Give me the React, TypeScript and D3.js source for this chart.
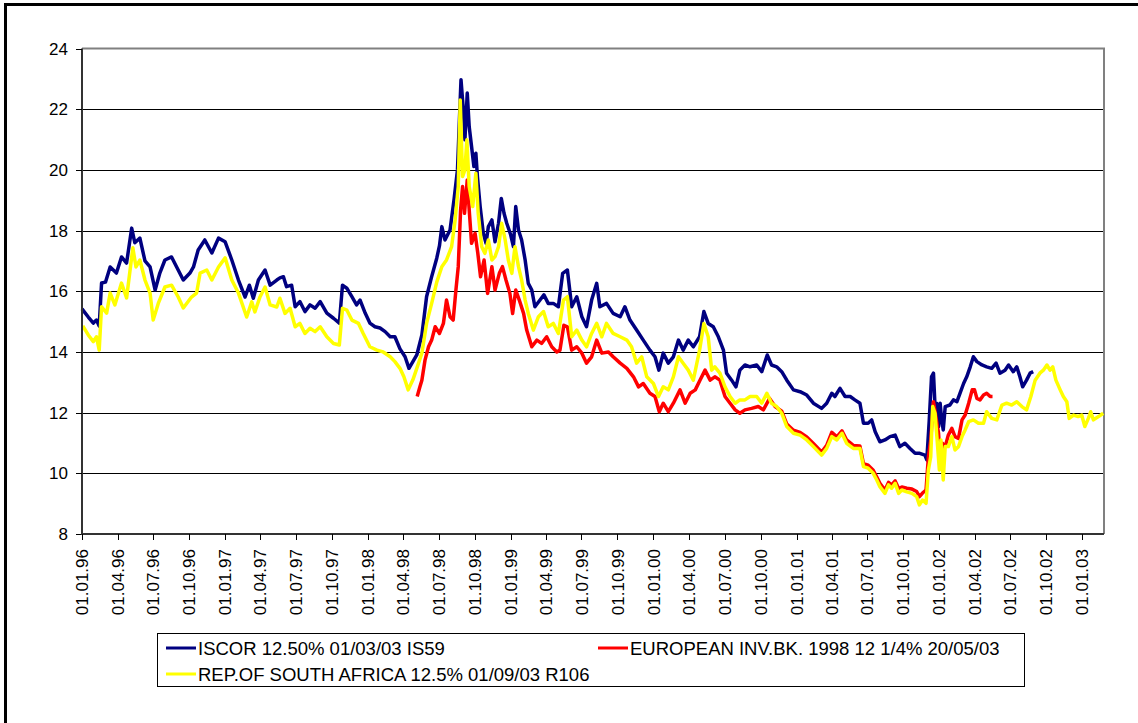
import React, { useEffect, useRef } from 'react';
import * as d3 from 'd3';

// ISCOR 12.50% 01/03/03 IS59
const iscor: [string, number][] = [
  ['1996-01-01', 15.42], ['1996-01-17', 15.15], ['1996-01-30', 14.95], ['1996-02-07', 15.05], ['1996-02-14', 14.85],
  ['1996-02-20', 16.27], ['1996-03-01', 16.3], ['1996-03-13', 16.8], ['1996-03-29', 16.6], ['1996-04-11', 17.13],
  ['1996-04-24', 16.93], ['1996-05-07', 18.08], ['1996-05-15', 17.6], ['1996-05-28', 17.75], ['1996-06-10', 17.0],
  ['1996-06-23', 16.8], ['1996-07-06', 16.04], ['1996-07-18', 16.6], ['1996-07-31', 17.03], ['1996-08-17', 17.13],
  ['1996-08-30', 16.8], ['1996-09-16', 16.37], ['1996-10-03', 16.6], ['1996-10-12', 16.8], ['1996-10-24', 17.36],
  ['1996-11-10', 17.69], ['1996-11-28', 17.26], ['1996-12-15', 17.75], ['1997-01-01', 17.63], ['1997-01-18', 17.03],
  ['1997-02-04', 16.37], ['1997-02-21', 15.81], ['1997-03-04', 16.2], ['1997-03-14', 15.77], ['1997-03-27', 16.37],
  ['1997-04-13', 16.7], ['1997-04-26', 16.2], ['1997-05-13', 16.37], ['1997-05-21', 16.44], ['1997-05-30', 16.48],
  ['1997-06-07', 16.15], ['1997-06-20', 16.2], ['1997-06-29', 15.49], ['1997-07-11', 15.66], ['1997-07-24', 15.33],
  ['1997-08-06', 15.55], ['1997-08-19', 15.44], ['1997-09-01', 15.66], ['1997-09-18', 15.28], ['1997-10-05', 15.11],
  ['1997-10-20', 14.95], ['1997-10-28', 16.2], ['1997-11-08', 16.1], ['1997-11-21', 15.82], ['1997-12-03', 15.55],
  ['1997-12-12', 15.71], ['1997-12-25', 15.28], ['1998-01-06', 14.95], ['1998-01-19', 14.83], ['1998-02-01', 14.79],
  ['1998-02-14', 14.67], ['1998-02-27', 14.5], ['1998-03-11', 14.5], ['1998-03-24', 14.1], ['1998-04-06', 13.84],
  ['1998-04-16', 13.46], ['1998-04-26', 13.68], ['1998-05-06', 13.9], ['1998-05-19', 14.56], ['1998-05-31', 15.82],
  ['1998-06-13', 16.48], ['1998-06-26', 17.09], ['1998-07-03', 17.5], ['1998-07-09', 18.13], ['1998-07-17', 17.69],
  ['1998-07-30', 18.02], ['1998-08-09', 19.0], ['1998-08-18', 20.0], ['1998-08-23', 21.65], ['1998-08-27', 22.97],
  ['1998-09-02', 21.98], ['1998-09-06', 20.99], ['1998-09-12', 22.53], ['1998-09-17', 21.42], ['1998-09-23', 20.77],
  ['1998-09-29', 20.11], ['1998-10-04', 20.55], ['1998-10-08', 19.78], ['1998-10-15', 18.79], ['1998-10-23', 17.91],
  ['1998-10-30', 17.58], ['1998-11-05', 18.13], ['1998-11-14', 18.35], ['1998-11-22', 17.63], ['1998-12-01', 18.24],
  ['1998-12-08', 19.06], ['1998-12-15', 18.57], ['1998-12-22', 18.24], ['1999-01-01', 17.86], ['1999-01-08', 17.47],
  ['1999-01-14', 18.79], ['1999-01-21', 18.02], ['1999-01-29', 17.69], ['1999-02-07', 17.03], ['1999-02-15', 16.26],
  ['1999-02-24', 16.04], ['1999-03-04', 15.49], ['1999-03-17', 15.71], ['1999-03-27', 15.88], ['1999-04-07', 15.6],
  ['1999-04-20', 15.6], ['1999-05-03', 15.49], ['1999-05-14', 16.59], ['1999-05-26', 16.7], ['1999-06-06', 15.49],
  ['1999-06-19', 15.82], ['1999-07-02', 15.16], ['1999-07-14', 14.83], ['1999-07-27', 15.71], ['1999-08-09', 16.26],
  ['1999-08-17', 15.49], ['1999-09-03', 15.6], ['1999-09-20', 15.27], ['1999-10-08', 15.16], ['1999-10-20', 15.49],
  ['1999-11-02', 15.05], ['1999-11-19', 14.72], ['1999-12-06', 14.39], ['1999-12-23', 14.06], ['2000-01-05', 13.84],
  ['2000-01-15', 13.4], ['2000-01-26', 13.96], ['2000-02-08', 13.63], ['2000-02-21', 13.84], ['2000-03-05', 14.39],
  ['2000-03-17', 14.06], ['2000-03-30', 14.39], ['2000-04-12', 14.17], ['2000-04-28', 14.5], ['2000-05-09', 15.33],
  ['2000-05-20', 14.94], ['2000-06-02', 14.83], ['2000-06-15', 14.5], ['2000-06-28', 14.06], ['2000-07-06', 13.3],
  ['2000-07-19', 13.07], ['2000-07-30', 12.85], ['2000-08-09', 13.4], ['2000-08-22', 13.57], ['2000-09-04', 13.51],
  ['2000-09-21', 13.57], ['2000-10-04', 13.35], ['2000-10-18', 13.9], ['2000-10-29', 13.57], ['2000-11-11', 13.51],
  ['2000-11-24', 13.35], ['2000-12-07', 13.07], ['2000-12-24', 12.75], ['2001-01-10', 12.69], ['2001-01-27', 12.58],
  ['2001-02-13', 12.31], ['2001-03-06', 12.14], ['2001-03-19', 12.31], ['2001-04-01', 12.64], ['2001-04-09', 12.53],
  ['2001-04-22', 12.8], ['2001-05-05', 12.53], ['2001-05-18', 12.53], ['2001-05-30', 12.42], ['2001-06-12', 12.31],
  ['2001-06-21', 11.65], ['2001-07-03', 11.65], ['2001-07-12', 11.76], ['2001-07-21', 11.37], ['2001-08-02', 11.04],
  ['2001-08-15', 11.1], ['2001-08-28', 11.21], ['2001-09-10', 11.26], ['2001-09-22', 10.88], ['2001-10-05', 10.99],
  ['2001-10-18', 10.82], ['2001-10-31', 10.66], ['2001-11-12', 10.66], ['2001-11-25', 10.6], ['2001-11-30', 10.44],
  ['2001-12-06', 11.7], ['2001-12-12', 13.18], ['2001-12-17', 13.3], ['2001-12-21', 12.2], ['2001-12-25', 12.31],
  ['2001-12-30', 11.54], ['2002-01-03', 12.31], ['2002-01-07', 11.76], ['2002-01-11', 11.43], ['2002-01-16', 12.2],
  ['2002-01-28', 12.25], ['2002-02-06', 12.42], ['2002-02-15', 12.36], ['2002-02-23', 12.64], ['2002-03-04', 12.96],
  ['2002-03-12', 13.18], ['2002-03-21', 13.51], ['2002-03-29', 13.84], ['2002-04-07', 13.68], ['2002-04-20', 13.57],
  ['2002-05-02', 13.51], ['2002-05-15', 13.46], ['2002-05-26', 13.63], ['2002-06-05', 13.3], ['2002-06-18', 13.4],
  ['2002-06-27', 13.57], ['2002-07-09', 13.35], ['2002-07-18', 13.51], ['2002-07-26', 13.18], ['2002-08-02', 12.85],
  ['2002-08-12', 13.07], ['2002-08-21', 13.3], ['2002-08-29', 13.35],
];

// EUROPEAN INV.BK. 1998 12 1/4% 20/05/03
const eib: [string, number][] = [
  ['1998-05-07', 12.53], ['1998-05-14', 12.85], ['1998-05-19', 13.07], ['1998-05-27', 13.73], ['1998-06-05', 14.17],
  ['1998-06-13', 14.39], ['1998-06-22', 14.83], ['1998-07-03', 14.61], ['1998-07-13', 14.94], ['1998-07-21', 15.71],
  ['1998-07-30', 15.16], ['1998-08-07', 15.05], ['1998-08-14', 16.04], ['1998-08-20', 16.81], ['1998-08-26', 18.68],
  ['1998-08-31', 19.45], ['1998-09-05', 18.57], ['1998-09-12', 19.67], ['1998-09-17', 18.68], ['1998-09-23', 17.58],
  ['1998-10-02', 17.91], ['1998-10-09', 17.25], ['1998-10-16', 16.48], ['1998-10-25', 17.03], ['1998-11-03', 15.93],
  ['1998-11-14', 16.81], ['1998-11-22', 16.04], ['1998-12-03', 16.59], ['1998-12-11', 16.81], ['1998-12-20', 16.37],
  ['1998-12-30', 15.93], ['1999-01-06', 15.27], ['1999-01-14', 16.04], ['1999-01-23', 15.71], ['1999-02-03', 15.27],
  ['1999-02-11', 14.72], ['1999-02-24', 14.17], ['1999-03-09', 14.39], ['1999-03-21', 14.28], ['1999-04-03', 14.5],
  ['1999-04-16', 14.17], ['1999-04-29', 14.0], ['1999-05-07', 14.06], ['1999-05-17', 14.88], ['1999-05-26', 14.83],
  ['1999-06-06', 14.06], ['1999-06-19', 14.17], ['1999-07-02', 13.96], ['1999-07-14', 13.63], ['1999-07-27', 13.84],
  ['1999-08-09', 14.39], ['1999-08-22', 13.96], ['1999-09-08', 14.0], ['1999-09-20', 13.84], ['1999-10-08', 13.63],
  ['1999-10-25', 13.46], ['1999-11-11', 13.18], ['1999-11-24', 12.85], ['1999-12-06', 12.96], ['1999-12-23', 12.64],
  ['2000-01-05', 12.53], ['2000-01-16', 12.03], ['2000-01-26', 12.31], ['2000-02-08', 12.03], ['2000-02-21', 12.31],
  ['2000-03-09', 12.75], ['2000-03-22', 12.31], ['2000-04-04', 12.64], ['2000-04-17', 12.75], ['2000-04-29', 13.07],
  ['2000-05-12', 13.4], ['2000-05-25', 13.07], ['2000-06-06', 13.18], ['2000-06-19', 13.07], ['2000-07-02', 12.53],
  ['2000-07-15', 12.31], ['2000-07-28', 12.09], ['2000-08-09', 11.98], ['2000-08-22', 12.09], ['2000-09-08', 12.14],
  ['2000-09-25', 12.2], ['2000-10-08', 12.09], ['2000-10-24', 12.47], ['2000-11-07', 12.2], ['2000-11-24', 12.05],
  ['2000-12-07', 11.62], ['2000-12-24', 11.42], ['2001-01-10', 11.35], ['2001-01-27', 11.2], ['2001-02-13', 10.98],
  ['2001-03-06', 10.7], ['2001-03-19', 10.92], ['2001-04-01', 11.35], ['2001-04-14', 11.2], ['2001-04-27', 11.4],
  ['2001-05-09', 11.1], ['2001-05-26', 10.92], ['2001-06-12', 10.9], ['2001-06-21', 10.32], ['2001-07-03', 10.27],
  ['2001-07-16', 10.1], ['2001-07-25', 9.88], ['2001-08-02', 9.67], ['2001-08-15', 9.45], ['2001-08-24', 9.7],
  ['2001-09-01', 9.62], ['2001-09-10', 9.75], ['2001-09-19', 9.5], ['2001-09-27', 9.55], ['2001-10-10', 9.51],
  ['2001-10-23', 9.48], ['2001-11-04', 9.4], ['2001-11-11', 9.23], ['2001-11-19', 9.35], ['2001-11-28', 9.45],
  ['2001-12-04', 10.55], ['2001-12-10', 11.1], ['2001-12-17', 12.36], ['2001-12-23', 11.87], ['2001-12-30', 11.32],
  ['2002-01-03', 10.44], ['2002-01-09', 10.99], ['2002-01-16', 10.88], ['2002-01-24', 11.26], ['2002-02-02', 11.48],
  ['2002-02-10', 11.21], ['2002-02-19', 11.15], ['2002-02-28', 11.76], ['2002-03-08', 11.92], ['2002-03-17', 12.31],
  ['2002-03-26', 12.75], ['2002-04-01', 12.75], ['2002-04-07', 12.47], ['2002-04-15', 12.42], ['2002-04-24', 12.58],
  ['2002-05-02', 12.64], ['2002-05-11', 12.53], ['2002-05-17', 12.53],
];

// REP.OF SOUTH AFRICA 12.5% 01/09/03 R106
const rsa: [string, number][] = [
  ['1996-01-03', 14.86], ['1996-01-17', 14.56], ['1996-01-30', 14.34], ['1996-02-07', 14.5], ['1996-02-14', 14.06],
  ['1996-02-20', 15.49], ['1996-03-04', 15.28], ['1996-03-13', 15.94], ['1996-03-25', 15.55], ['1996-04-11', 16.27],
  ['1996-04-24', 15.78], ['1996-05-10', 17.43], ['1996-05-18', 16.8], ['1996-05-28', 17.03], ['1996-06-10', 16.37],
  ['1996-06-23', 15.94], ['1996-07-01', 15.05], ['1996-07-14', 15.6], ['1996-07-31', 16.14], ['1996-08-17', 16.2],
  ['1996-09-03', 15.81], ['1996-09-16', 15.45], ['1996-10-07', 15.81], ['1996-10-20', 15.94], ['1996-10-29', 16.6],
  ['1996-11-15', 16.7], ['1996-11-28', 16.37], ['1996-12-15', 16.8], ['1997-01-01', 17.1], ['1997-01-18', 16.37],
  ['1997-02-04', 15.94], ['1997-02-25', 15.15], ['1997-03-10', 15.65], ['1997-03-18', 15.32], ['1997-03-31', 15.81],
  ['1997-04-13', 16.14], ['1997-04-26', 15.55], ['1997-05-13', 15.48], ['1997-05-21', 15.77], ['1997-06-03', 15.27],
  ['1997-06-16', 15.44], ['1997-06-29', 14.83], ['1997-07-11', 14.94], ['1997-07-24', 14.61], ['1997-08-06', 14.78],
  ['1997-08-19', 14.67], ['1997-09-01', 14.83], ['1997-09-18', 14.5], ['1997-10-05', 14.28], ['1997-10-20', 14.23],
  ['1997-10-28', 15.44], ['1997-11-08', 15.38], ['1997-11-21', 15.05], ['1997-12-08', 14.94], ['1997-12-20', 14.61],
  ['1998-01-06', 14.17], ['1998-01-24', 14.06], ['1998-02-09', 14.0], ['1998-02-27', 13.84], ['1998-03-11', 13.68],
  ['1998-03-24', 13.46], ['1998-04-03', 13.18], ['1998-04-14', 12.75], ['1998-04-26', 13.08], ['1998-05-06', 13.46],
  ['1998-05-19', 13.96], ['1998-05-31', 14.94], ['1998-06-13', 15.6], ['1998-06-26', 16.3], ['1998-07-09', 16.81],
  ['1998-07-21', 17.03], ['1998-08-03', 17.47], ['1998-08-12', 18.35], ['1998-08-20', 19.45], ['1998-08-25', 22.3],
  ['1998-08-31', 19.78], ['1998-09-06', 20.0], ['1998-09-11', 20.99], ['1998-09-17', 19.45], ['1998-09-26', 18.79],
  ['1998-10-04', 19.89], ['1998-10-10', 18.57], ['1998-10-19', 17.47], ['1998-10-27', 17.25], ['1998-11-05', 17.69],
  ['1998-11-14', 17.03], ['1998-11-22', 17.14], ['1998-12-01', 17.47], ['1998-12-09', 18.24], ['1998-12-18', 17.69],
  ['1998-12-26', 17.03], ['1999-01-04', 16.59], ['1999-01-12', 17.47], ['1999-01-21', 16.81], ['1999-01-29', 16.37],
  ['1999-02-07', 15.71], ['1999-02-15', 15.27], ['1999-02-28', 14.72], ['1999-03-13', 15.16], ['1999-03-26', 15.33],
  ['1999-04-07', 14.83], ['1999-04-20', 14.94], ['1999-05-03', 14.61], ['1999-05-16', 15.71], ['1999-05-26', 15.82],
  ['1999-06-06', 14.5], ['1999-06-19', 14.72], ['1999-07-02', 14.39], ['1999-07-14', 14.17], ['1999-07-27', 14.61],
  ['1999-08-09', 14.94], ['1999-08-22', 14.5], ['1999-09-03', 14.94], ['1999-09-20', 14.61], ['1999-10-08', 14.5],
  ['1999-10-25', 14.39], ['1999-11-06', 14.17], ['1999-11-19', 13.63], ['1999-12-02', 13.84], ['1999-12-15', 13.18],
  ['2000-01-01', 12.96], ['2000-01-14', 12.53], ['2000-01-26', 12.85], ['2000-02-08', 12.75], ['2000-02-21', 13.18],
  ['2000-03-05', 13.84], ['2000-03-17', 13.63], ['2000-03-30', 13.4], ['2000-04-12', 13.07], ['2000-04-28', 14.06],
  ['2000-05-09', 14.94], ['2000-05-20', 14.5], ['2000-05-29', 13.4], ['2000-06-06', 13.51], ['2000-06-19', 13.3],
  ['2000-07-02', 12.85], ['2000-07-15', 12.53], ['2000-07-28', 12.31], ['2000-08-09', 12.42], ['2000-08-22', 12.42],
  ['2000-09-04', 12.53], ['2000-09-21', 12.53], ['2000-10-04', 12.31], ['2000-10-17', 12.64], ['2000-10-29', 12.31],
  ['2000-11-11', 12.2], ['2000-11-24', 11.98], ['2000-12-07', 11.54], ['2000-12-24', 11.32], ['2001-01-10', 11.26],
  ['2001-01-27', 11.1], ['2001-02-13', 10.88], ['2001-03-06', 10.6], ['2001-03-19', 10.82], ['2001-04-01', 11.21],
  ['2001-04-14', 11.1], ['2001-04-27', 11.32], ['2001-05-09', 10.99], ['2001-05-26', 10.82], ['2001-06-12', 10.82],
  ['2001-06-21', 10.22], ['2001-07-03', 10.17], ['2001-07-16', 10.0], ['2001-07-25', 9.78], ['2001-08-02', 9.56],
  ['2001-08-15', 9.34], ['2001-08-24', 9.62], ['2001-09-01', 9.51], ['2001-09-10', 9.67], ['2001-09-19', 9.34],
  ['2001-09-27', 9.45], ['2001-10-10', 9.39], ['2001-10-23', 9.34], ['2001-11-04', 9.23], ['2001-11-11', 8.96],
  ['2001-11-19', 9.12], ['2001-11-28', 9.01], ['2001-12-04', 10.11], ['2001-12-10', 10.55], ['2001-12-15', 12.2],
  ['2001-12-21', 11.98], ['2001-12-27', 10.99], ['2002-01-01', 10.11], ['2002-01-05', 11.1], ['2002-01-11', 9.78],
  ['2002-01-16', 10.88], ['2002-01-24', 10.88], ['2002-02-02', 11.21], ['2002-02-10', 10.77], ['2002-02-19', 10.88],
  ['2002-02-28', 11.21], ['2002-03-08', 11.43], ['2002-03-17', 11.7], ['2002-03-29', 11.76], ['2002-04-11', 11.65],
  ['2002-04-24', 11.65], ['2002-05-02', 12.03], ['2002-05-15', 11.81], ['2002-05-28', 11.76], ['2002-06-10', 12.25],
  ['2002-06-22', 12.31], ['2002-07-05', 12.25], ['2002-07-18', 12.36], ['2002-07-31', 12.2], ['2002-08-12', 12.09],
  ['2002-08-23', 12.53], ['2002-09-03', 13.07], ['2002-09-15', 13.3], ['2002-09-24', 13.4], ['2002-10-03', 13.57],
  ['2002-10-11', 13.4], ['2002-10-18', 13.51], ['2002-10-26', 13.07], ['2002-11-06', 12.75], ['2002-11-14', 12.53],
  ['2002-11-23', 12.36], ['2002-11-29', 11.81], ['2002-12-10', 11.92], ['2002-12-22', 11.87], ['2002-12-31', 11.92],
  ['2003-01-08', 11.54], ['2003-01-17', 11.81], ['2003-01-23', 12.03], ['2003-01-30', 11.76], ['2003-02-12', 11.87],
  ['2003-02-24', 11.98],
];

const seriesNames = [
  'ISCOR 12.50% 01/03/03 IS59',
  'EUROPEAN INV.BK. 1998 12 1/4% 20/05/03',
  'REP.OF SOUTH AFRICA 12.5% 01/09/03 R106',
];
const seriesColors = ['#000080', '#ff0000', '#ffff00'];
const yTicks = [8, 10, 12, 14, 16, 18, 20, 22, 24];
const dateRange = ['1996-01-01', '2003-02-26'];

const FONT = 'Arial, "Liberation Sans", sans-serif';

const App: React.FC = () => {
  const svgRef = useRef<SVGSVGElement>(null);

  useEffect(() => {
    if (!svgRef.current) return;
    const svg = d3.select(svgRef.current);
    svg.selectAll('*').remove();

    const parse = d3.utcParse('%Y-%m-%d');
    const left = 82, right = 1104, top = 48.5, bottom = 534;

    const x = d3.scaleUtc()
      .domain(dateRange.map((d) => parse(d) as Date))
      .range([left, right]);
    const y = d3.scaleLinear().domain([8, 24]).range([bottom, top]);

    // outer frame
    svg.append('rect')
      .attr('x', 5.5).attr('y', 4.5)
      .attr('width', 1200).attr('height', 800)
      .attr('fill', '#fff').attr('stroke', '#000').attr('stroke-width', 3);

    // gridlines
    svg.append('g')
      .selectAll('line')
      .data(yTicks.filter((t) => t > 8 && t < 24))
      .join('line')
      .attr('x1', left).attr('x2', right)
      .attr('y1', (d) => Math.round(y(d)) + 0.5).attr('y2', (d) => Math.round(y(d)) + 0.5)
      .attr('stroke', '#000').attr('stroke-width', 1);

    // plot border (top / right)
    svg.append('path')
      .attr('d', `M${left},${top}H${right}V${bottom}`)
      .attr('fill', 'none').attr('stroke', '#808080').attr('stroke-width', 2);

    // series
    const line = d3.line<[string, number]>()
      .x((d) => x(parse(d[0]) as Date))
      .y((d) => y(d[1]));

    [iscor, eib, rsa].forEach((data, i) => {
      svg.append('path')
        .datum(data)
        .attr('d', line)
        .attr('fill', 'none')
        .attr('stroke', seriesColors[i])
        .attr('stroke-width', 3.5)
        .attr('stroke-linejoin', 'round');
    });

    // y axis
    const yAxis = svg.append('g');
    yAxis.append('line')
      .attr('x1', left).attr('x2', left).attr('y1', top).attr('y2', bottom + 1)
      .attr('stroke', '#333').attr('stroke-width', 2);
    yAxis.selectAll('line.tick')
      .data(yTicks)
      .join('line')
      .attr('class', 'tick')
      .attr('x1', left - 6).attr('x2', left)
      .attr('y1', (d) => Math.round(y(d)) + 0.5).attr('y2', (d) => Math.round(y(d)) + 0.5)
      .attr('stroke', '#000');
    yAxis.selectAll('text')
      .data(yTicks)
      .join('text')
      .attr('x', left - 14)
      .attr('y', (d) => y(d))
      .attr('dy', '0.36em')
      .attr('text-anchor', 'end')
      .style('font-family', FONT)
      .style('font-size', '17px')
      .text((d) => d);

    // x axis
    const xTicks = d3.utcMonth.every(3)!.range(parse('1996-01-01') as Date, parse('2003-01-02') as Date);
    const fmt = d3.utcFormat('%d.%m.%y');
    const xAxis = svg.append('g');
    xAxis.append('line')
      .attr('x1', left - 1).attr('x2', right).attr('y1', bottom).attr('y2', bottom)
      .attr('stroke', '#333').attr('stroke-width', 2);
    xAxis.selectAll('line.tick')
      .data(xTicks)
      .join('line')
      .attr('class', 'tick')
      .attr('x1', (d) => Math.round(x(d)) + 0.5).attr('x2', (d) => Math.round(x(d)) + 0.5)
      .attr('y1', bottom).attr('y2', bottom + 6)
      .attr('stroke', '#000');
    xAxis.selectAll('text')
      .data(xTicks)
      .join('text')
      .attr('transform', (d) => `translate(${x(d)},${bottom + 15}) rotate(-90)`)
      .attr('dy', '0.36em')
      .attr('text-anchor', 'end')
      .style('font-family', FONT)
      .style('font-size', '17px')
      .text((d) => fmt(d));

    // legend
    const lg = svg.append('g');
    lg.append('rect')
      .attr('x', 157.5).attr('y', 633.5).attr('width', 867).attr('height', 53)
      .attr('fill', '#fff').attr('stroke', '#000').attr('stroke-width', 1);
    const legendPos = [
      { x: 166, y: 648 },
      { x: 598, y: 648 },
      { x: 166, y: 674 },
    ];
    seriesNames.forEach((name, i) => {
      const p = legendPos[i];
      lg.append('line')
        .attr('x1', p.x).attr('x2', p.x + 30).attr('y1', p.y).attr('y2', p.y)
        .attr('stroke', seriesColors[i]).attr('stroke-width', 3);
      lg.append('text')
        .attr('x', p.x + 32).attr('y', p.y).attr('dy', '0.36em')
        .style('font-family', FONT)
        .style('font-size', '18.5px')
        .text(name);
    });
  }, []);

  return (
    <svg
      ref={svgRef}
      width={1138}
      height={723}
      style={{ position: 'absolute', left: 0, top: 0, background: '#fff' }}
    />
  );
};

export default App;
